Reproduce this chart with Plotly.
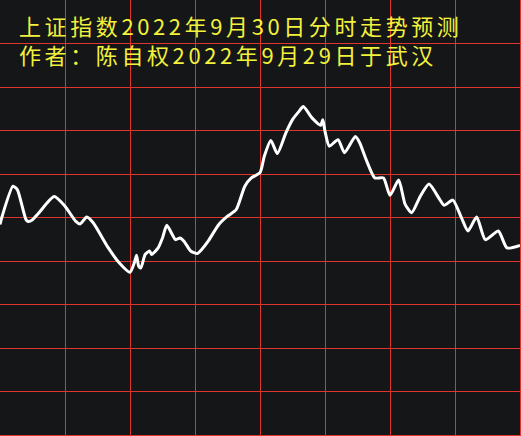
import plotly.graph_objects as go

# Minutes since the open (0-240) and predicted index level
minutes = [0, 1, 6, 8, 12, 13, 15, 18, 25, 30, 35, 37, 40, 43, 50, 55, 60, 62, 63, 64,
           65, 67, 69, 70, 73, 75, 77, 81, 83, 85, 88, 91, 93, 96, 101, 105, 109, 113, 116, 120,
           122, 125, 128, 132, 135, 138, 140, 144, 148, 149, 150, 152, 156, 159, 164, 166, 169, 173, 177, 180,
           184, 187, 190, 194, 198, 203, 205, 209, 213, 216, 220, 224, 230, 234, 240]
values = [3038.4, 3040.3, 3047.2, 3046.4, 3039.5, 3039.1, 3039.5, 3041.1, 3044.8, 3042.6,
          3039.1, 3038.5, 3040.1, 3038.8, 3033.0, 3029.6, 3027.4, 3029.6, 3031.3, 3028.8,
          3028.4, 3031.5, 3032.3, 3031.5, 3033.0, 3035.3, 3038.2, 3034.9, 3035.3, 3034.5,
          3032.3, 3031.7, 3032.6, 3034.5, 3038.4, 3040.3, 3041.8, 3047.2, 3049.1, 3050.3,
          3054.1, 3057.7, 3054.7, 3059.5, 3062.5, 3064.4, 3065.5, 3062.9, 3061.2, 3062.5,
          3059.8, 3056.4, 3057.9, 3054.9, 3058.6, 3057.2, 3053.3, 3049.1, 3049.1, 3045.1,
          3048.6, 3043.0, 3041.1, 3044.9, 3047.7, 3044.1, 3042.8, 3044.0, 3039.9, 3036.9,
          3040.1, 3034.9, 3036.9, 3033.0, 3033.6]

title_line1 = "上证指数2022年9月30日分时走势预测"
title_line2 = "作者：陈自权2022年9月29日于武汉"

GRID = "#e0342f"
BG = "#151618"
YELLOW = "#f2f23c"

fig = go.Figure()
fig.add_trace(go.Scatter(
    x=minutes, y=values, mode="lines",
    line=dict(color="#ffffff", width=3, shape="spline", smoothing=0.6),
    hoverinfo="skip", showlegend=False,
))

span = '<span style="letter-spacing:3.6px">{}</span>'
fig.update_layout(
    width=521, height=436,
    margin=dict(l=0, r=1, t=0, b=1),
    paper_bgcolor=BG, plot_bgcolor=BG,
    showlegend=False,
    xaxis=dict(range=[0, 240], dtick=30, tick0=0, showgrid=True, gridcolor=GRID, gridwidth=1,
               zeroline=False, showticklabels=False, ticks="",
               showline=True, linecolor=GRID, linewidth=1, mirror=True, fixedrange=True),
    yaxis=dict(range=[2990, 3090], dtick=10, tick0=2990, showgrid=True, gridcolor=GRID, gridwidth=1,
               zeroline=False, showticklabels=False, ticks="",
               showline=True, linecolor=GRID, linewidth=1, mirror=True, fixedrange=True),
    annotations=[
        dict(text=span.format(title_line1) + "<br>" + span.format(title_line2),
             xref="paper", yref="paper", x=0.032, y=0.909, xanchor="left", yanchor="middle",
             align="left", showarrow=False,
             font=dict(family="Noto Sans CJK SC", size=22, color=YELLOW)),
    ],
)

fig.write_html("out.html", config={"displayModeBar": False},
               post_script="document.body.style.margin='0';document.body.style.background='" + BG + "';")
